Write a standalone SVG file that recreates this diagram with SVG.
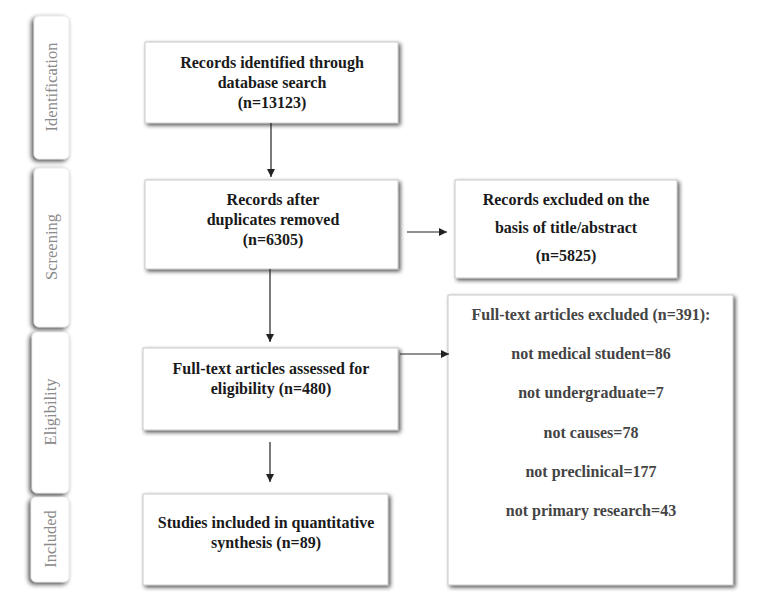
<svg xmlns="http://www.w3.org/2000/svg" width="777" height="600" viewBox="0 0 777 600">
<defs>
<filter id="sh" x="-20%" y="-20%" width="140%" height="140%">
<feGaussianBlur in="SourceAlpha" stdDeviation="2.2"/>
<feOffset dx="1.5" dy="1.5" result="b"/>
<feComponentTransfer><feFuncA type="linear" slope="0.7"/></feComponentTransfer>
<feMerge><feMergeNode/><feMergeNode in="SourceGraphic"/></feMerge>
</filter>
<filter id="sh2" x="-40%" y="-20%" width="180%" height="140%">
<feGaussianBlur in="SourceAlpha" stdDeviation="2.5"/>
<feOffset dx="-2" dy="2" result="b"/>
<feComponentTransfer><feFuncA type="linear" slope="0.75"/></feComponentTransfer>
<feMerge><feMergeNode/><feMergeNode in="SourceGraphic"/></feMerge>
</filter>
<marker id="ah" viewBox="0 0 10 10" refX="10" refY="5" markerWidth="8" markerHeight="8" markerUnits="userSpaceOnUse" orient="auto">
<path d="M0,0 L10,5 L0,10 z" fill="#222"/>
</marker>
</defs>
<style>
.box{fill:#fff;stroke:#bbb;stroke-width:0.8;filter:url(#sh)}
.side{fill:#fff;stroke:#ddd;stroke-width:0.6;filter:url(#sh2)}
.t{font-family:"Liberation Serif","Times New Roman",serif;font-weight:bold;font-size:16px;fill:#1a1a1a;text-anchor:middle}
.g{fill:#444}
.s{font-family:"Liberation Serif","Times New Roman",serif;font-size:16.5px;fill:#8a8a8a;text-anchor:middle}
.c{stroke:#222;stroke-width:1.2;fill:none;marker-end:url(#ah)}
</style>
<rect width="777" height="600" fill="#fff"/>

<g id="stage-identification">
<rect class="side" x="34" y="16" width="35" height="143" rx="5"/>
<text class="s" transform="translate(57,87) rotate(-90)">Identification</text>
</g>
<g id="stage-screening">
<rect class="side" x="34" y="168" width="35" height="159" rx="5"/>
<text class="s" transform="translate(57,247) rotate(-90)">Screening</text>
</g>
<g id="stage-eligibility">
<rect class="side" x="32" y="332" width="37" height="161" rx="5"/>
<text class="s" transform="translate(56,412) rotate(-90)">Eligibility</text>
</g>
<g id="stage-included">
<rect class="side" x="31" y="497" width="38" height="85" rx="5"/>
<text class="s" transform="translate(56,539) rotate(-90)">Included</text>
</g>

<g id="identified">
<rect class="box" x="145" y="42" width="253" height="81"/>
<text class="t" x="272" y="68">Records identified through</text>
<text class="t" x="272" y="88">database search</text>
<text class="t" x="272" y="108">(n=13123)</text>
</g>
<g id="after-duplicates">
<rect class="box" x="145" y="180" width="253" height="89"/>
<text class="t" x="273" y="205">Records after</text>
<text class="t" x="273" y="225">duplicates removed</text>
<text class="t" x="273" y="245">(n=6305)</text>
</g>
<g id="excluded-title">
<rect class="box" x="455" y="180" width="222" height="98"/>
<text class="t" x="566" y="205">Records excluded on the</text>
<text class="t" x="566" y="233">basis of title/abstract</text>
<text class="t" x="566" y="261">(n=5825)</text>
</g>
<g id="assessed">
<rect class="box" x="143" y="348" width="255" height="82"/>
<text class="t" x="271" y="374">Full-text articles assessed for</text>
<text class="t" x="271" y="394">eligibility (n=480)</text>
</g>
<g id="fulltext-excluded">
<rect class="box" x="448" y="295" width="285" height="290"/>
<text class="t g" x="591" y="320">Full-text articles excluded (n=391):</text>
<text class="t g" x="591" y="359">not medical student=86</text>
<text class="t g" x="591" y="398">not undergraduate=7</text>
<text class="t g" x="591" y="438">not causes=78</text>
<text class="t g" x="591" y="477">not preclinical=177</text>
<text class="t g" x="591" y="516">not primary research=43</text>
</g>
<g id="included">
<rect class="box" x="143" y="494" width="245" height="91"/>
<text class="t" x="266" y="528">Studies included in quantitative</text>
<text class="t" x="266" y="548">synthesis (n=89)</text>
</g>

<g id="connectors">
<line class="c" x1="271" y1="123" x2="271" y2="177"/>
<line class="c" x1="270" y1="269" x2="270" y2="342"/>
<line class="c" x1="270" y1="442" x2="270" y2="482"/>
<line class="c" x1="407" y1="232" x2="447" y2="232"/>
<line class="c" x1="400" y1="354" x2="449" y2="354"/>
</g>
</svg>
